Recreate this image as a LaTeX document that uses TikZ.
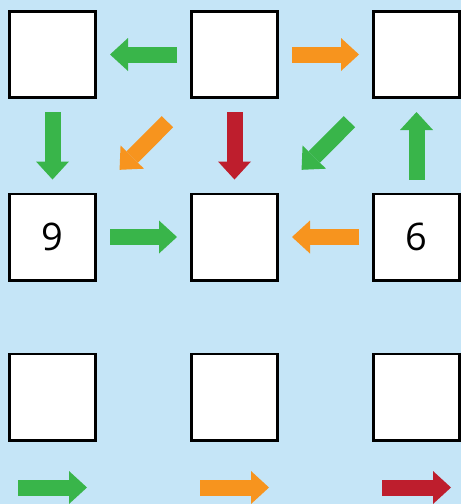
\documentclass[tikz,border=0pt]{standalone}
\usepackage{fontspec}
\setmainfont{Open Sans}
\usetikzlibrary{arrows.meta}
\definecolor{bgblue}{RGB}{197,229,247}
\definecolor{agreen}{RGB}{57,181,74}
\definecolor{aorange}{RGB}{247,148,30}
\definecolor{ared}{RGB}{190,30,45}

\begin{document}
\begin{tikzpicture}[x=1pt, y=-1pt,
  cell/.style={draw, fill=white, line width=2.6pt, minimum size=86.4pt,
               inner sep=0pt, font=\fontsize{38}{40}\selectfont},
  fat/.style={line width=16pt, -{Triangle[width=33pt, length=18pt, line width=0pt]},
              shorten <=13pt, shorten >=13pt},
  fatdiag/.style={fat, shorten <=32pt, shorten >=32pt}]
% background
\fill[bgblue] (0,0) rectangle (461,504);
\useasboundingbox (0,0) rectangle (461,504);
% top row
\node[cell] (a1) at (52.5,54.5) {};
\node[cell] (a2) at (234.5,54.5) {};
\node[cell] (a3) at (416.5,54.5) {};
% middle row
\node[cell] (b1) at (52.5,237) {9};
\node[cell] (b2) at (234.5,237) {};
\node[cell] (b3) at (416.5,237) {6};
% bottom row
\node[cell] (c1) at (52.5,397) {};
\node[cell] (c2) at (234.5,397) {};
\node[cell] (c3) at (416.5,397) {};
% arrows top row
\draw[fat, agreen] (a2) -- (a1);
\draw[fat, aorange] (a2) -- (a3);
% arrows between top and middle rows
\draw[fat, agreen] (a1) -- (b1);
\draw[fatdiag, aorange] (a2.south west) -- (b1.north east);
\draw[fat, ared] (a2) -- (b2);
\draw[fatdiag, agreen] (a3.south west) -- (b2.north east);
\draw[fat, agreen] (b3) -- (a3);
% arrows middle row
\draw[fat, agreen] (b1) -- (b2);
\draw[fat, aorange] (b3) -- (b2);
% legend arrows under the bottom row
\coordinate (g1) at ([shift={(-34.5,46)}]c1.south);
\coordinate (g2) at ([shift={(34.5,46)}]c1.south);
\coordinate (o1) at ([shift={(-34.5,46)}]c2.south);
\coordinate (o2) at ([shift={(34.5,46)}]c2.south);
\coordinate (r1) at ([shift={(-34.5,46)}]c3.south);
\coordinate (r2) at ([shift={(34.5,46)}]c3.south);
\draw[fat, shorten <=0pt, shorten >=0pt, agreen] (g1) -- (g2);
\draw[fat, shorten <=0pt, shorten >=0pt, aorange] (o1) -- (o2);
\draw[fat, shorten <=0pt, shorten >=0pt, ared] (r1) -- (r2);
\end{tikzpicture}
\end{document}
